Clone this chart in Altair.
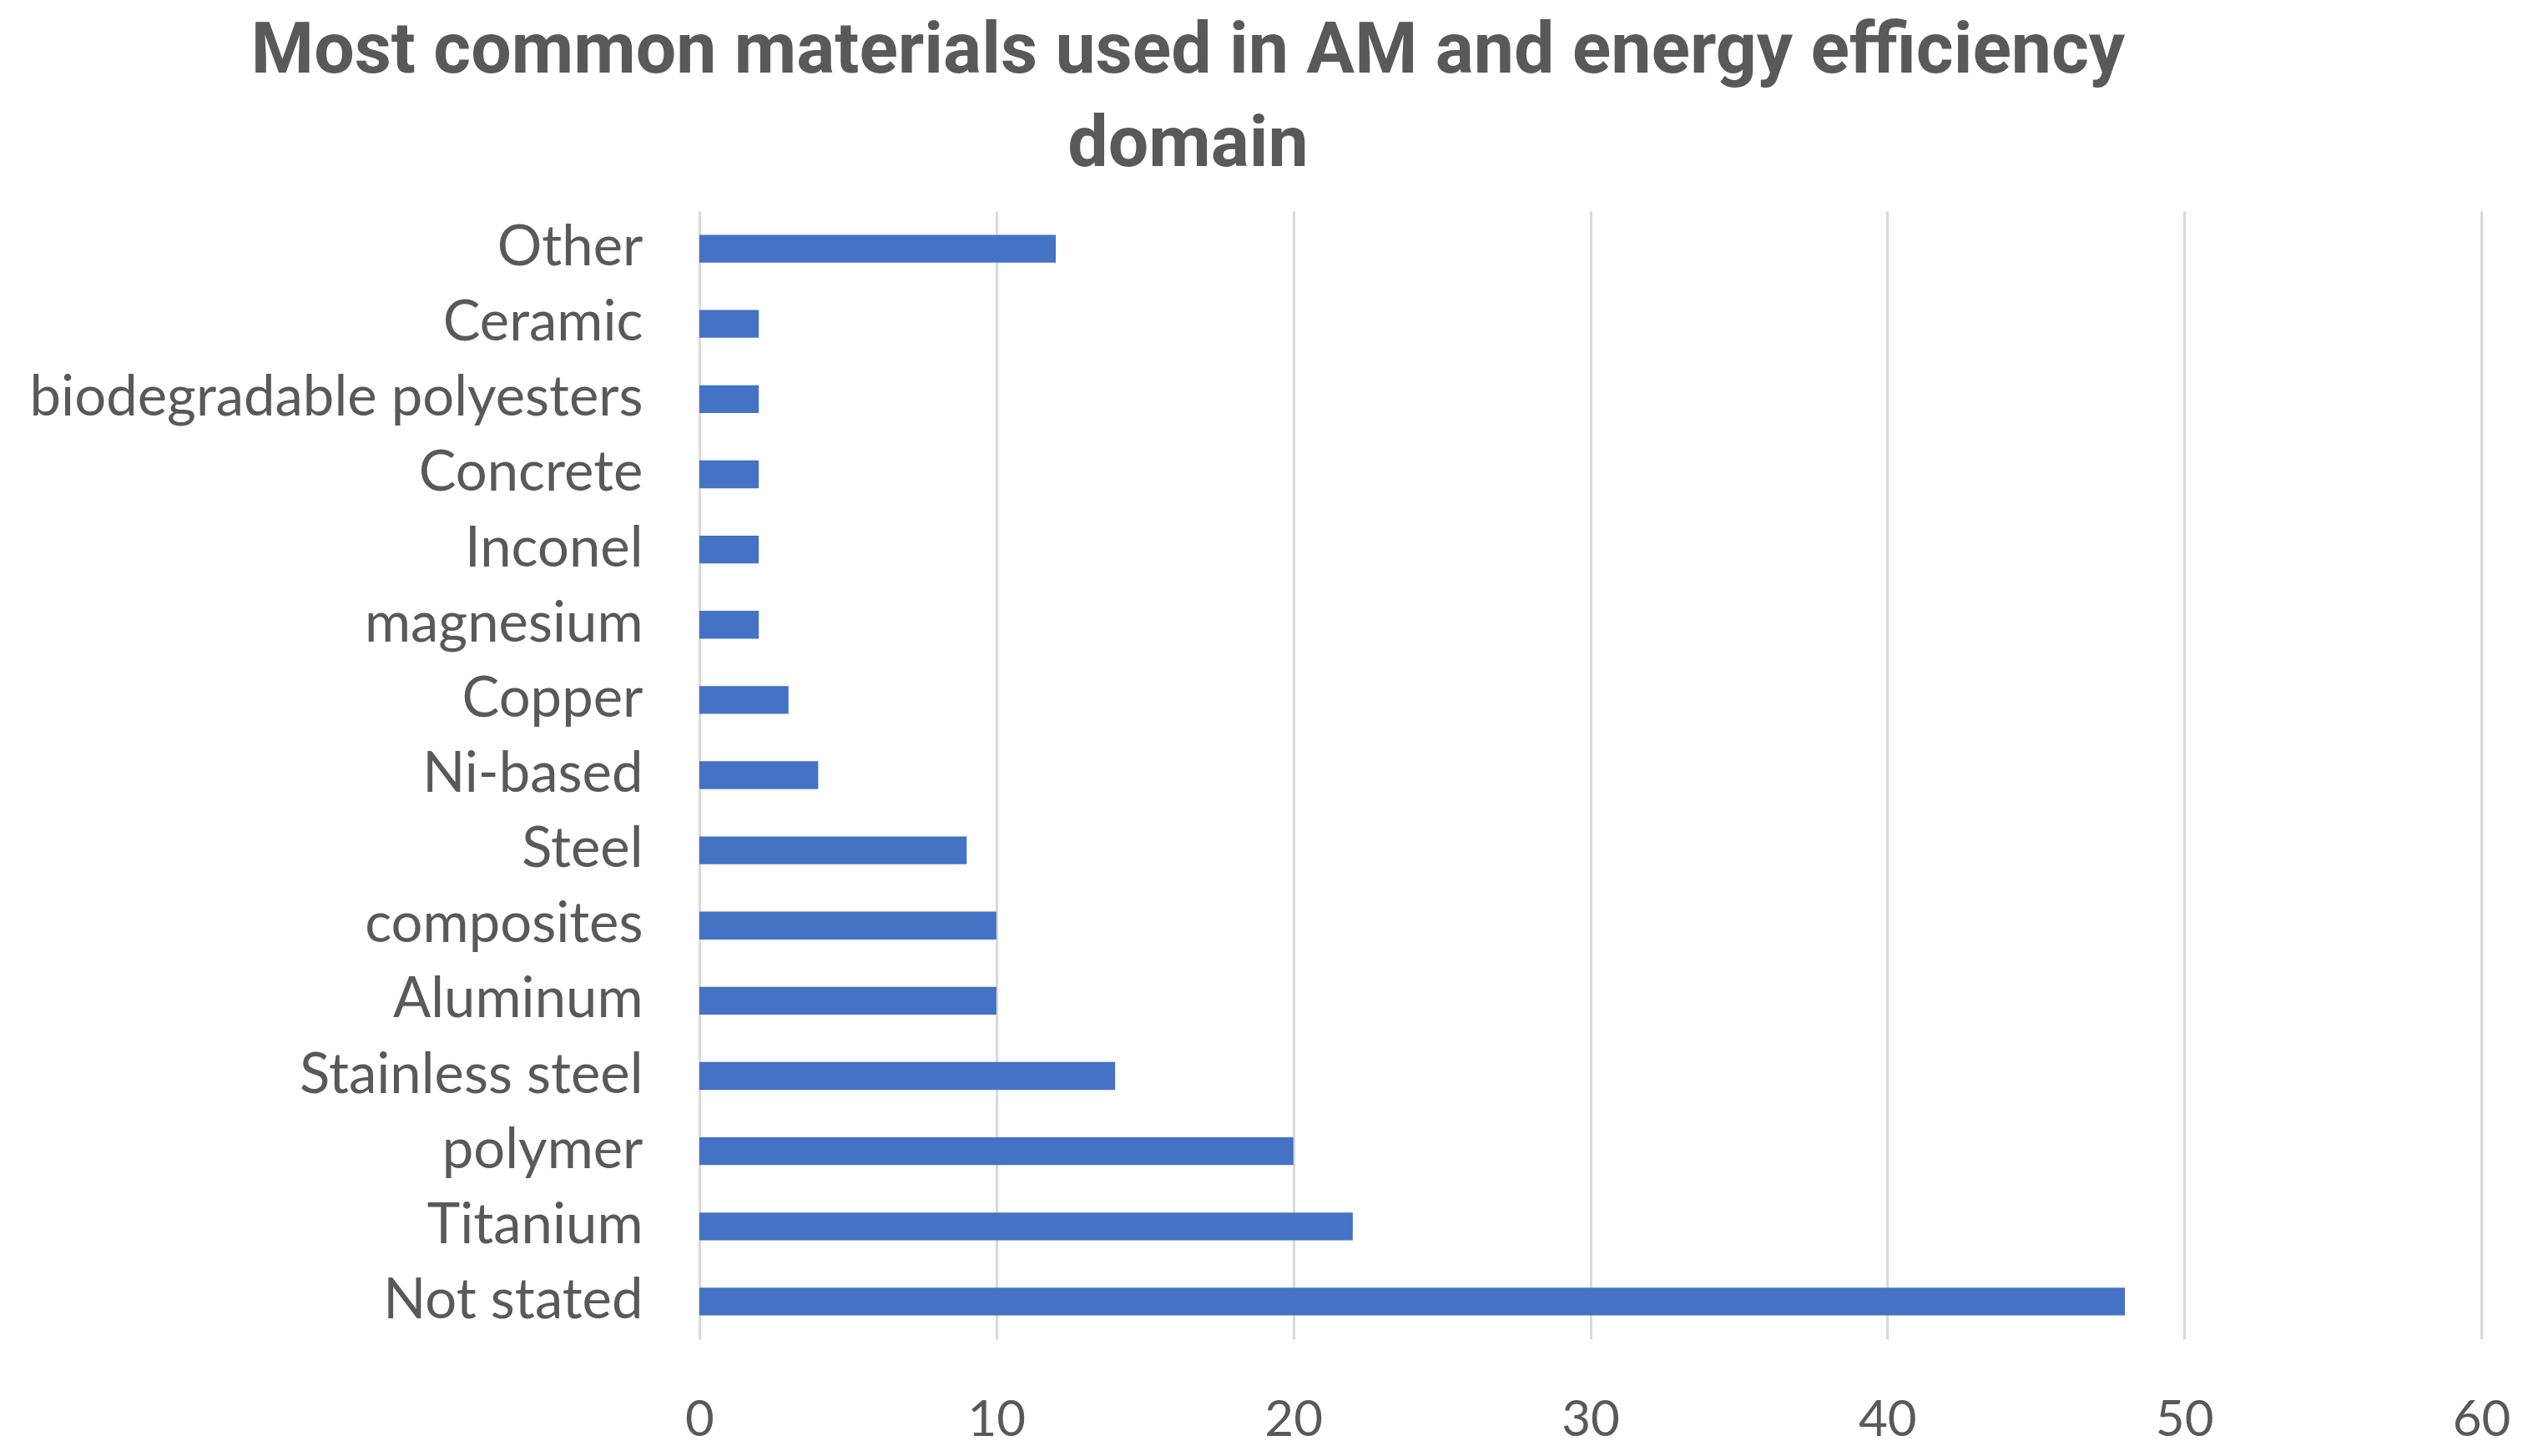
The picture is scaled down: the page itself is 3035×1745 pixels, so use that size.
import altair as alt
import pandas as pd

materials = ["Other", "Ceramic", "biodegradable polyesters", "Concrete ", "Inconel",
             "magnesium", "Copper", "Ni-based ", "Steel", "composites", "Aluminum",
             "Stainless steel", "polymer", "Titanium", "Not stated"]
counts = [12, 2, 2, 2, 2, 2, 3, 4, 9, 10, 10, 14, 20, 22, 48]
x_ticks = [0, 10, 20, 30, 40, 50, 60]

df = pd.DataFrame({"material": materials, "count": counts})

FONT = "Lato"
GRAY = "#595959"

chart = alt.Chart(df).mark_bar(color="#4472C4").encode(
    x=alt.X("count:Q",
            scale=alt.Scale(domain=[0, 60], nice=False),
            axis=alt.Axis(values=x_ticks, title=None, domain=False, ticks=False,
                          grid=True, gridColor="#D9D9D9", gridWidth=3,
                          labelFont=FONT, labelFontSize=60, labelColor=GRAY,
                          labelFlush=False, labelPadding=68)),
    y=alt.Y("material:N", sort=materials,
            scale=alt.Scale(paddingInner=0.63, paddingOuter=0.315),
            axis=alt.Axis(title=None, domain=False, ticks=False, grid=False,
                          labelFont=FONT, labelFontSize=67, labelColor=GRAY,
                          labelPadding=68, labelLimit=1000)),
).properties(
    width=2135,
    height=1352,
    padding={"left": 830, "top": 245, "right": 40, "bottom": 130},
    autosize=alt.AutoSizeParams(type="none"),
    title=alt.TitleParams(
        text=["Most common materials used in AM and energy efficiency", "domain"],
        font="Roboto", fontSize=86, fontWeight="bold", color=GRAY,
        anchor="middle", dx=-482, offset=36, lineHeight=112,
    ),
).configure_view(stroke=None)

chart.save("out.html", embed_options={"renderer": "svg", "actions": False})
